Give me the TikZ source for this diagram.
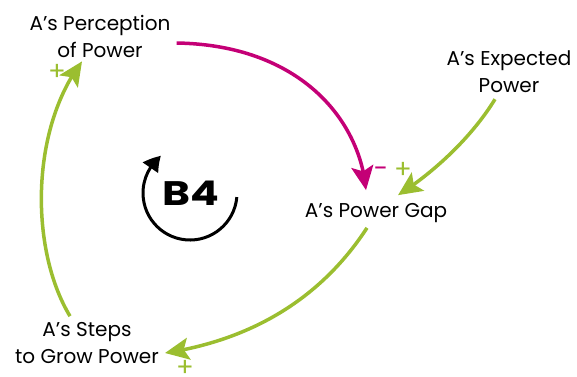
\documentclass[tikz,border=0pt]{standalone}
\usepackage{fontspec}
\setmainfont{Poppins}
\usetikzlibrary{arrows.meta,bending}

\definecolor{linkmag}{RGB}{196,0,118}
\definecolor{linkgrn}{RGB}{155,190,48}

\tikzset{
  var/.style={align=center, inner sep=2pt, font=\fontsize{20}{27}\selectfont},
  link/.style={line width=3.5pt, -{Stealth[length=24pt,width=22pt,inset=5pt]}},
  sign/.style={inner sep=0pt, font=\fontsize{26}{26}\selectfont},
}

\begin{document}
\begin{tikzpicture}[x=1pt,y=-1pt]
    \useasboundingbox (0,0) rectangle (577,376);

    % --- 变量 ---
    \node[var] (percep) at (100,36) {A's Perception\\of Power};
    \node[var] (expect) at (509,72) {A's Expected\\Power};
    \node[var] (gap)    at (376,213) {A's Power Gap};
    \node[var] (steps)  at (87,343) {A's Steps\\to Grow Power};

    % --- 回路标记 B4 ---
    \node[font=\fontsize{34}{34}\selectfont\bfseries] (loop) at (191,193) {\scalebox{1.25}[1]{B4}};
    \draw[line width=3pt, -{Triangle[bend,length=16pt,width=18pt]}]
        ([shift={(5:47)}]190,193) arc[start angle=5, end angle=232, radius=47];

    % --- 因果链接 ---
    % 感知 -> 差距 (负)
    \draw[link, linkmag] ([shift={(4,7)}]percep.east)
        .. controls (300,45) and (360,120) .. ([shift={(-10,-11)}]gap.north);
    % 期望 -> 差距 (正)
    \draw[link, linkgrn] ([shift={(-14,4)}]expect.south)
        .. controls (470,140) and (430,175) .. ([shift={(22,-6)}]gap.north);
    % 差距 -> 行动 (正)
    \draw[link, linkgrn] ([shift={(-9,3)}]gap.south)
        .. controls (320,300) and (250,340) .. ([shift={(4,10)}]steps.east);
    % 行动 -> 感知 (正)
    \draw[link, linkgrn] ([shift={(-17,-4)}]steps.north)
        .. controls (30,250) and (30,130) .. ([shift={(-18,2)}]percep.south);

    % --- 极性符号 ---
    \node[sign, linkmag] (s1) at (381,172) {-};
    \node[sign, linkgrn] (s2) at (403,170) {+};
    \node[sign, linkgrn] (s3) at (57,72) {+};
    \node[sign, linkgrn] (s4) at (185,368) {+};
\end{tikzpicture}
\end{document}
